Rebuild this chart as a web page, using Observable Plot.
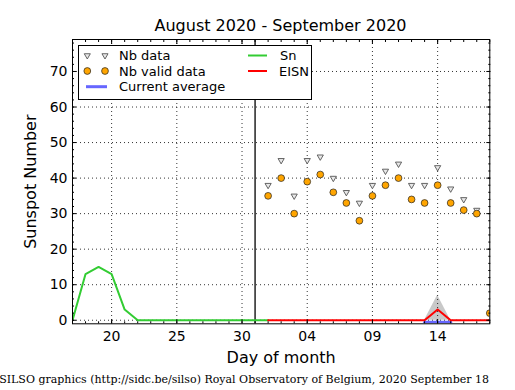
<!DOCTYPE html>
<html>
<head>
<meta charset="utf-8">
<script src="https://cdn.jsdelivr.net/npm/d3@7"></script>
<script src="https://cdn.jsdelivr.net/npm/@observablehq/plot@0.6"></script>
<style>
  html, body { margin: 0; padding: 0; background: white; }
  #wrap { position: relative; width: 515px; height: 390px; overflow: hidden; font-family: "DejaVu Sans", sans-serif; background: white; }
  #title { position: absolute; left: 72px; width: 417px; top: 16px; text-align: center; font-size: 16px; line-height: 20px; color: black; }
  #chart { position: absolute; left: 0; top: 30px; }
  #caption { position: absolute; right: 26px; top: 373px; white-space: nowrap; font-family: "DejaVu Serif", serif; font-size: 11px; line-height: 13px; }
  #legend { position: absolute; left: 78px; top: 45px; }
</style>
</head>
<body>
<div id="wrap">
  <div id="chart"></div>
  <div id="title">August 2020 - September 2020</div>
  <svg id="legend" width="234" height="56"></svg>
  <div id="caption">SILSO graphics (http://sidc.be/silso) Royal Observatory of Belgium, 2020 September 18</div>
</div>
<script>
// Day index: August days as-is, September days as 31 + day
const snDays   = [17,18,19,20,21,22,23,24,25,26,27,28,29,30,31,32];
const snValues = [0,13,15,13,3,0,0,0,0,0,0,0,0,0,0,0];

const eisnDays   = [32,33,34,35,36,37,38,39,40,41,42,43,44,45,46,47,48,49];
const eisnValues = [0,0,0,0,0,0,0,0,0,0,0,0,0,3,0,0,0,0];

const nbDataDays   = [32,33,34,35,36,37,38,39,40,41,42,43,44,45,46,47,48];
const nbDataValues = [38,45,35,45,46,40,36,33,38,42,44,38,38,43,37,34,31];

const nbValidDays   = [32,33,34,35,36,37,38,39,40,41,42,43,44,45,46,47,48,49];
const nbValidValues = [35,40,30,39,41,36,33,28,35,38,40,34,33,38,33,31,30,2];

const bandDays = [44,45,46];
const bandLow  = [0,0,0];
const bandHigh = [0,7,0];

const avgDays   = [44,45,46];
const avgValues = [0,0,0];

const markerDay = [31];

const xTickDays   = [20,25,30,35,40,45];
const xTickLabels = ["20","25","30","04","09","14"];
const yTicks      = [0,10,20,30,40,50,60,70];

const sn    = snDays.map((d,i) => ({x:d, y:snValues[i]}));
const eisn  = eisnDays.map((d,i) => ({x:d, y:eisnValues[i]}));
const nbd   = nbDataDays.map((d,i) => ({x:d, y:nbDataValues[i]}));
const nbv   = nbValidDays.map((d,i) => ({x:d, y:nbValidValues[i]}));
const band  = bandDays.map((d,i) => ({x:d, y1:bandLow[i], y2:bandHigh[i]}));
const avg   = avgDays.map((d,i) => ({x:d, y:avgValues[i]}));

const minorX = d3.range(17, 50);
const minorY = d3.range(0, 80, 2);

const plot = Plot.plot({
  width: 515,
  height: 340,
  marginTop: 9,
  marginBottom: 46.7,
  marginLeft: 72,
  marginRight: 25.7,
  style: {fontFamily: "DejaVu Sans, sans-serif", color: "black", background: "transparent"},
  x: {domain: [17, 49]},
  y: {domain: [-1, 79]},
  marks: [
    Plot.areaY(band, {x: "x", y1: "y1", y2: "y2", fill: "#c8c8c8", clip: true}),
    Plot.gridX(xTickDays, {stroke: "black", strokeOpacity: 1, strokeWidth: 0.8, strokeDasharray: "1,3"}),
    Plot.gridY(yTicks, {stroke: "black", strokeOpacity: 1, strokeWidth: 0.8, strokeDasharray: "1,3"}),
    Plot.ruleX(markerDay, {stroke: "black", strokeWidth: 1.3}),
    Plot.line(sn, {x: "x", y: "y", stroke: "#33cc33", strokeWidth: 2, clip: true}),
    Plot.line(avg, {x: "x", y: "y", stroke: "#6666ff", strokeWidth: 3, dy: 2, clip: true}),
    Plot.line(eisn, {x: "x", y: "y", stroke: "#ff0000", strokeWidth: 2, clip: true}),
    Plot.dot(nbd, {x: "x", y: "y", symbol: "triangle", rotate: 180, r: 2.3, fill: "#e8e8e8", stroke: "#555", strokeWidth: 0.9, clip: true}),
    Plot.dot(nbv, {x: "x", y: "y", r: 3.4, fill: "#ffa500", stroke: "#222", strokeWidth: 0.7, clip: true}),
    // inward ticks
    Plot.axisX(xTickDays, {anchor: "bottom", tickSize: 4, dy: -4, text: null, label: null, stroke: "black"}),
    Plot.axisX(minorX, {anchor: "bottom", tickSize: 2, dy: -2, text: null, label: null, stroke: "black"}),
    Plot.axisX(xTickDays, {anchor: "top", tickSize: 4, dy: 4, text: null, label: null, stroke: "black"}),
    Plot.axisX(minorX, {anchor: "top", tickSize: 2, dy: 2, text: null, label: null, stroke: "black"}),
    Plot.axisY(yTicks, {anchor: "left", tickSize: 4, dx: 4, text: null, label: null, stroke: "black"}),
    Plot.axisY(minorY, {anchor: "left", tickSize: 2, dx: 2, text: null, label: null, stroke: "black"}),
    Plot.axisY(yTicks, {anchor: "right", tickSize: 4, dx: -4, text: null, label: null, stroke: "black"}),
    Plot.axisY(minorY, {anchor: "right", tickSize: 2, dx: -2, text: null, label: null, stroke: "black"}),
    // labels
    Plot.axisX(xTickDays, {anchor: "bottom", tickSize: 0, tickPadding: 7, fontSize: 14, label: null,
      tickFormat: d => xTickLabels[xTickDays.indexOf(d)]}),
    Plot.axisY(yTicks, {anchor: "left", tickSize: 0, tickPadding: 5, fontSize: 14, label: null}),
    Plot.text(["Day of month"], {text: d => d, frameAnchor: "bottom", lineAnchor: "middle", textAnchor: "middle", dy: 34, fontSize: 16}),
    Plot.text(["Sunspot Number"], {text: d => d, frameAnchor: "left", lineAnchor: "middle", textAnchor: "middle", dx: -41.5, rotate: -90, fontSize: 16}),
    Plot.frame({stroke: "black", strokeWidth: 1})
  ]
});
document.getElementById("chart").appendChild(plot);

// Legend
const lg = d3.select("#legend");
lg.append("rect").attr("x", 0.5).attr("y", 0.5).attr("width", 233).attr("height", 54)
  .attr("fill", "white").attr("stroke", "black").attr("stroke-width", 1);
const tri = d3.symbol(d3.symbolTriangle, 16)();
const rows = [10.5, 26, 41.7];
[9.3, 27].forEach(x => {
  lg.append("path").attr("d", tri).attr("transform", `translate(${x},${rows[0]}) rotate(180)`)
    .attr("fill", "#e8e8e8").attr("stroke", "#555").attr("stroke-width", 0.9);
  lg.append("circle").attr("cx", x).attr("cy", rows[1]).attr("r", 3.4)
    .attr("fill", "#ffa500").attr("stroke", "#222").attr("stroke-width", 0.7);
});
lg.append("line").attr("x1", 8).attr("x2", 29).attr("y1", rows[2]).attr("y2", rows[2])
  .attr("stroke", "#6666ff").attr("stroke-width", 3);
lg.append("line").attr("x1", 170).attr("x2", 189).attr("y1", rows[0]).attr("y2", rows[0])
  .attr("stroke", "#33cc33").attr("stroke-width", 2);
lg.append("line").attr("x1", 170).attr("x2", 189).attr("y1", rows[1]).attr("y2", rows[1])
  .attr("stroke", "#ff0000").attr("stroke-width", 2);
const labels = [["Nb data", 41, rows[0]], ["Nb valid data", 41, rows[1]], ["Current average", 41, rows[2]],
                ["Sn", 202, rows[0]], ["EISN", 201, rows[1]]];
labels.forEach(([t, x, y]) => {
  lg.append("text").attr("x", x).attr("y", y).attr("dy", "0.35em")
    .attr("font-family", "DejaVu Sans, sans-serif").attr("font-size", 13).text(t);
});
</script>
</body>
</html>
